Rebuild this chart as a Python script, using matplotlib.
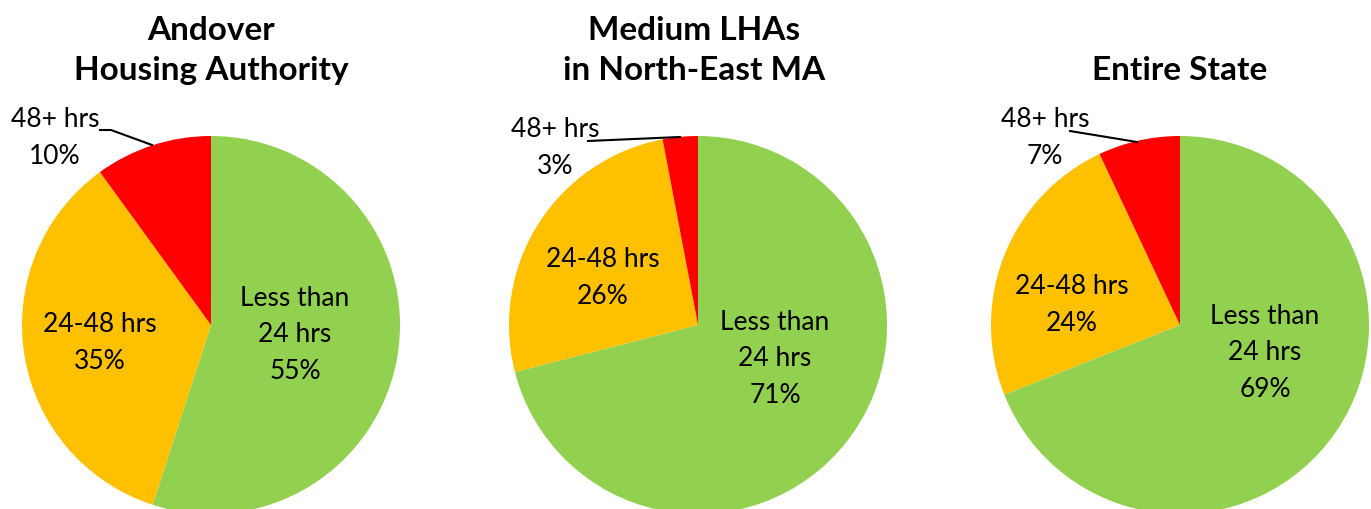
import matplotlib.pyplot as plt

plt.rcParams['font.family'] = ['Lato', 'DejaVu Sans']

titles = ["Andover\nHousing Authority", "Medium LHAs\nin North-East MA", "Entire State"]
categories = ["Less than\n24 hrs", "24-48 hrs", "48+ hrs"]
andover = [55, 35, 10]
medium = [71, 26, 3]
state = [69, 24, 7]
colors = ["#92D050", "#FFC000", "#FF0000"]

W, H = 1371, 510
fig = plt.figure(figsize=(W / 100, H / 100), dpi=100)
ax = fig.add_axes([0, 0, 1, 1])

# pie centres in image pixels (y from top), radius in px
centres = [(211, 326), (698, 326), (1180, 326)]
title_x = [211, 694, 1180]
R = 189
# label spots (image px): green, yellow, red text, red leader line points
green_pos = [(295, 335), (775, 359), (1265, 353)]
yellow_pos = [(100, 343), (603, 278), (1072, 305)]
red_pos = [(55, 138), (555, 148), (1045, 138)]
leaders = [[(100, 131), (111, 131), (152, 146)],
           [(588, 142), (680, 138)],
           [(1070, 132), (1137, 143)]]

for i, vals in enumerate([andover, medium, state]):
    cx, cy = centres[i]
    ax.pie(vals, colors=colors, startangle=90, counterclock=False,
           center=(cx, H - cy), radius=R, wedgeprops=dict(linewidth=0))
    ax.text(title_x[i], H - 80, titles[i], ha="center", va="baseline", fontsize=24,
            fontweight="bold", linespacing=1.45)
    gx, gy = green_pos[i]
    ax.text(gx, H - gy, categories[0] + "\n" + str(vals[0]) + "%", ha="center",
            va="center", fontsize=19, linespacing=1.58)
    yx, yy = yellow_pos[i]
    ax.text(yx, H - yy, categories[1] + "\n" + str(vals[1]) + "%", ha="center",
            va="center", fontsize=19, linespacing=1.58)
    rx, ry = red_pos[i]
    ax.text(rx, H - ry, categories[2] + "\n" + str(vals[2]) + "%", ha="center",
            va="center", fontsize=19, linespacing=1.6)
    xs = [p[0] for p in leaders[i]]
    ys = [H - p[1] for p in leaders[i]]
    ax.plot(xs, ys, color="black", lw=1.5)

ax.set_xlim(0, W)
ax.set_ylim(0, H)
ax.set_aspect("auto")
ax.axis("off")
fig.savefig("out.png", dpi=100)
